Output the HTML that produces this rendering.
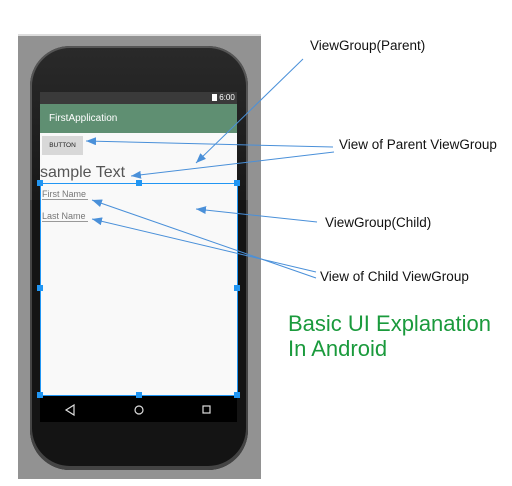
<!DOCTYPE html>
<html><head><style>
body{margin:0;width:512px;height:486px;background:#fff;position:relative;overflow:hidden;font-family:"Liberation Sans",sans-serif}
.a{position:absolute}
.lbl{position:absolute;font-size:13.5px;color:#111;white-space:nowrap}
</style></head><body>
<div class="a" style="left:18px;top:34px;width:243px;height:443px;background:#929292;border-top:2px solid #ddd"></div>
<div class="a" style="left:30px;top:46px;width:218px;height:176px;background:linear-gradient(#2a2a2a,#151515);border-radius:40px 40px 0 0;box-shadow:0 0 0 2px #555 inset"></div>
<div class="a" style="left:30px;top:200px;width:218px;height:270px;background:#141414;border-radius:0 0 40px 40px;box-shadow:0 -2px 0 2px #444 inset"></div>
<div class="a" style="left:40px;top:92px;width:197px;height:12px;background:#3a3a3a;color:#fff;font-size:8px;text-align:right;line-height:12px"><span style="display:inline-block;width:5px;height:7px;background:#fff;vertical-align:-1px"></span> 6:00&nbsp;</div>
<div class="a" style="left:40px;top:104px;width:197px;height:29px;background:#5f8f72;color:#fff;font-size:10px;line-height:29px;text-indent:9px">FirstApplication</div>
<div class="a" style="left:40px;top:133px;width:197px;height:263px;background:#f9f9f9"></div>
<div class="a" style="left:42px;top:136px;width:41px;height:19px;background:#d8d8d8;font-size:6.5px;line-height:19px;text-align:center;color:#222">BUTTON</div>
<div class="a" style="left:40px;top:164px;font-size:16px;color:#555">sample Text</div>
<div class="a" style="left:42px;top:189px;font-size:9px;color:#777;border-bottom:1px solid #999;width:46px">First Name</div>
<div class="a" style="left:42px;top:211px;font-size:9px;color:#777;border-bottom:1px solid #999;width:46px">Last Name</div>
<div class="a" style="left:40px;top:396px;width:197px;height:26px;background:#000"></div>
<svg class="a" style="left:0;top:0" width="512" height="486">
<g stroke="#ddd" fill="none" stroke-width="1.2"><path d="M74 405 L66 410 L74 415Z"/><circle cx="139" cy="410" r="4"/><rect x="203" y="406" width="7" height="7"/></g>
<rect x="40.5" y="183.5" width="197" height="212" fill="none" stroke="#2196f3" stroke-width="1"/>
<g fill="#2196f3"><rect x="37" y="180" width="6" height="6"/><rect x="136" y="180" width="6" height="6"/><rect x="234" y="180" width="6" height="6"/><rect x="37" y="285" width="6" height="6"/><rect x="234" y="285" width="6" height="6"/><rect x="37" y="392" width="6" height="6"/><rect x="136" y="392" width="6" height="6"/><rect x="234" y="392" width="6" height="6"/></g>
<defs><marker id="m" markerUnits="userSpaceOnUse" markerWidth="10" markerHeight="8" refX="10" refY="4" orient="auto-start-reverse"><path d="M0 0 L10 4 L0 8Z" fill="#4a90d9"/></marker></defs>
<g stroke="#4a90d9" stroke-width="1" fill="none" marker-start="url(#m)">
<line x1="196" y1="163" x2="303" y2="59"/>
<line x1="86" y1="141" x2="333" y2="147"/>
<line x1="131" y1="176" x2="334" y2="152"/>
<line x1="196" y1="209" x2="317" y2="222"/>
<line x1="92" y1="200" x2="316" y2="278"/>
<line x1="92" y1="219" x2="316" y2="272"/>
</g>
</svg>
<div class="lbl" style="left:310px;top:38px">ViewGroup(Parent)</div>
<div class="lbl" style="left:339px;top:137px">View of Parent ViewGroup</div>
<div class="lbl" style="left:325px;top:215px">ViewGroup(Child)</div>
<div class="lbl" style="left:320px;top:269px">View of Child ViewGroup</div>
<div class="a" style="left:288px;top:311px;font-size:22px;line-height:25px;color:#1a9a3c">Basic UI Explanation<br>In Android</div>
</body></html>
